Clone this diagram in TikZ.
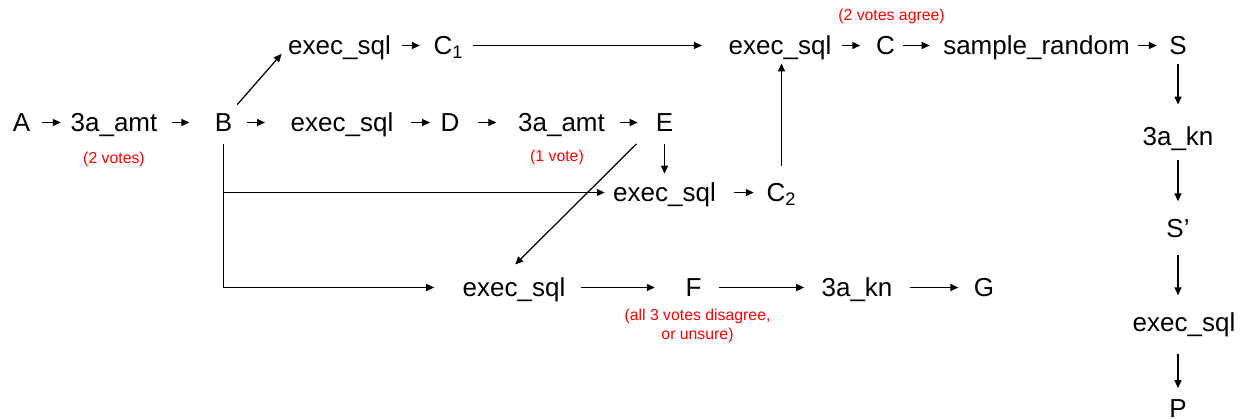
\documentclass[tikz,border=0pt]{standalone}
\usepackage{fontspec}
\setmainfont{Liberation Sans}
\usetikzlibrary{positioning,arrows.meta}

\begin{document}
\begin{tikzpicture}[on grid,line width=0.7pt,>={Triangle[length=4.5pt,width=4pt]},
  lbl/.style={inner sep=0pt,text height=10.6pt,text depth=0pt,font=\fontsize{14.8}{16}\selectfont},
  note/.style={inner sep=0pt,text=red,align=center,font=\fontsize{9}{10.8}\selectfont}]
\useasboundingbox (0,0) rectangle (24.92,-8.36);
\node[lbl] (a) at (0.43,-2.45) {A};
\node[lbl,right=1.85cm of a] (amt1) {3a\_amt};
\node[lbl,right=2.19cm of amt1] (b) {B};
\node[lbl,above right=1.54cm and 2.32cm of b] (ex1) {exec\_sql};
\node[lbl,right=2.18cm of ex1] (cone) {C\textsubscript{1}};
\node[lbl,right=6.63cm of cone] (ex4) {exec\_sql};
\node[lbl,right=2.11cm of ex4] (c) {C};
\node[lbl,right=3.02cm of c] (smp) {sample\_random};
\node[lbl,right=2.83cm of smp] (s) {S};
\node[lbl,below=1.81cm of s] (kn1) {3a\_kn};
\node[lbl,below=1.84cm of kn1] (sp) {S’};
\node[lbl,below right=1.88cm and 0.12cm of sp] (ex6) {exec\_sql};
\node[lbl,below=3.6cm of sp] (p) {P};
\node[lbl,right=2.37cm of b] (ex2) {exec\_sql};
\node[lbl,right=2.16cm of ex2] (d) {D};
\node[lbl,right=2.23cm of d] (amt2) {3a\_amt};
\node[lbl,right=2.06cm of amt2] (e) {E};
\node[lbl,below=1.4cm of e] (ex3) {exec\_sql};
\node[lbl,right=2.34cm of ex3] (ctwo) {C\textsubscript{2}};
\node[lbl,below right=3.3cm and 5.81cm of b] (ex5) {exec\_sql};
\node[lbl,right=3.59cm of ex5] (f) {F};
\node[lbl,right=3.27cm of f] (kn2) {3a\_kn};
\node[lbl,right=2.54cm of kn2] (g) {G};
\node[note,below=0.73cm of amt1] (vote2) {(2 votes)};
\node[note,below left=0.7cm and 0.09cm of amt2] (vote1) {(1 vote)};
\node[note,above right=0.59cm and 0.12cm of c] (agree) {(2 votes agree)};
\node[note,below right=0.77cm and 0.08cm of f] (fail) {(all 3 votes disagree,\\or unsure)};
\draw[->,shorten <=6.6pt,shorten >=5.3pt] (a) -- (amt1);
\draw[->,shorten <=7.8pt,shorten >=14.2pt] (amt1) -- (b);
\draw[->,shorten <=8.3pt,shorten >=14.3pt] (b) -- (ex2);
\draw[->,shorten <=9.6pt,shorten >=5.7pt] (ex2) -- (d);
\draw[->,shorten <=10.4pt,shorten >=12.1pt] (d) -- (amt2);
\draw[->,shorten <=8.1pt,shorten >=10pt] (amt2) -- (e);
\draw[->,shorten <=6.2pt,shorten >=7.5pt] (ex1) -- (cone);
\draw[->,shorten <=5.1pt,shorten >=14.9pt] (cone) -- (ex4);
\draw[->,shorten <=10.2pt,shorten >=7pt] (ex3) -- (ctwo);
\draw[->,shorten <=5.8pt,shorten >=8.7pt] (ex4) -- (c);
\draw[->,shorten <=4.4pt,shorten >=7.4pt] (c) -- (smp);
\draw[->,shorten <=4.5pt,shorten >=6.8pt] (smp) -- (s);
\draw[->,shorten <=8.5pt,shorten >=17.2pt] (ex5) -- (f);
\draw[->,shorten <=9.6pt,shorten >=9.6pt] (f) -- (kn2);
\draw[->,shorten <=9.6pt,shorten >=8.5pt] (kn2) -- (g);
\draw[->,shorten <=5.1pt,shorten >=12.3pt] (s) -- (kn1);
\draw[->,shorten <=7.9pt,shorten >=9.6pt] (kn1) -- (sp);
\draw[->,shorten <=9.6pt,shorten >=9.6pt] (sp.south) -- (sp.south |- ex6.north);
\draw[->,shorten <=12.5pt,shorten >=5.7pt] (p.north |- ex6.south) -- (p.north);
\draw[->,shorten <=6.8pt,shorten >=5.1pt] (e) -- (ex3);
\draw[->,shorten <=9.6pt,shorten >=4.6pt] (ctwo.north) -- (ctwo.north |- ex4.south);
\draw[->,shorten <=6pt,shorten >=0pt] ([xshift=-0.05cm]b.north east) -- ([xshift=-0.12cm,yshift=0.03cm]ex1.south west);
\draw[->,shorten <=9.2pt,shorten >=10.6pt] ([xshift=-0.33cm]e.south) -- ([xshift=-0.24cm]ex5.north);
\draw[->,shorten <=6.4pt,shorten >=15.9pt] (b.south) |- (ex5.west);
\draw[->,shorten <=6.4pt,shorten >=4.5pt] (b.south) |- (ex3.west);
\end{tikzpicture}
\end{document}
